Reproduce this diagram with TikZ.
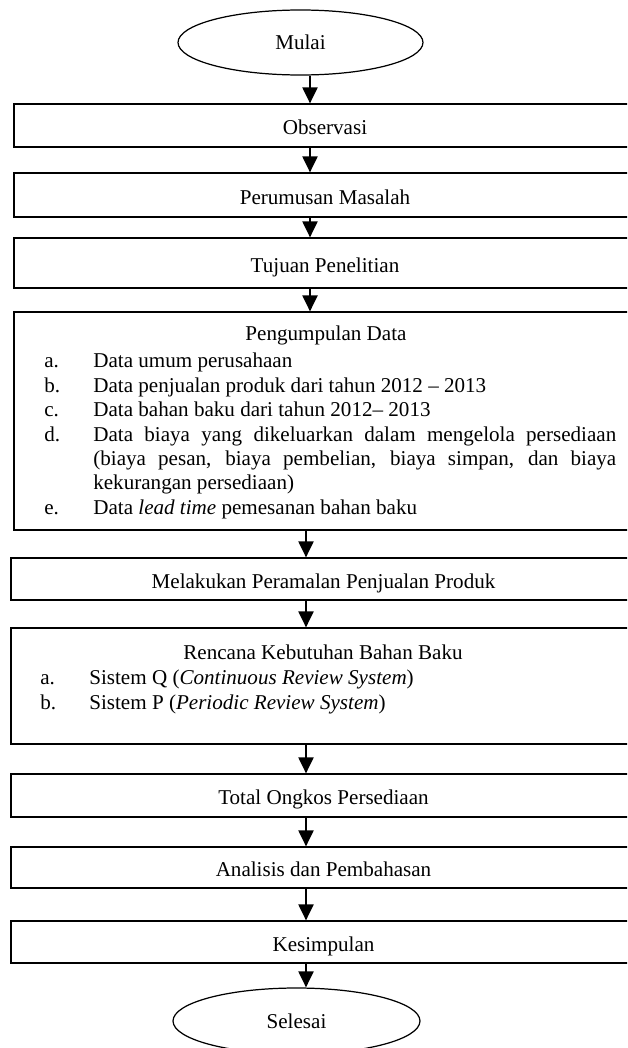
\documentclass[tikz,border=0pt]{standalone}
\usepackage{fontspec}
\setmainfont{Liberation Serif}
\usetikzlibrary{shapes.geometric,arrows.meta}
\newcommand{\butir}[2]{\par\hangindent=0.98cm\hangafter=1\noindent\makebox[0.98cm][l]{#1}#2}
\hyphenpenalty=10000

\begin{document}
\begin{tikzpicture}[x=0.02cm,y=-0.02cm,
  every node/.style={font=\fontsize{12pt}{13.9pt}\selectfont},
  terminal/.style={draw,ellipse,line width=0.7pt,minimum width=4.9cm,minimum height=1.3cm,inner sep=0pt},
  proses/.style={draw,rectangle,line width=0.7pt,minimum width=12.44cm,inner sep=0pt,text height=13pt,text depth=2.7pt},
  proses2/.style={proses,minimum width=12.5cm},
  daftar/.style={text width=11.44cm,align=justify,inner sep=0pt,anchor=north west},
  flow/.style={-{Triangle[width=0.3cm,length=0.32cm]},line width=1.2pt}]
\useasboundingbox (0,0) rectangle (627,1048);
\clip (0,0) rectangle (627,1048);

\coordinate (ax) at (310,0);
\coordinate (bx) at (306,0);

\node[terminal] (mulai) at (300.5,42.5) {Mulai};
\node[proses,minimum height=0.86cm] (obs) at (325,125.5) {Observasi};
\node[proses,minimum height=0.88cm] (rumus) at (325,195) {Perumusan Masalah};
\node[proses,minimum height=1.0cm] (tujuan) at (325,263) {Tujuan Penelitian};

\node[proses,minimum height=4.36cm] (kumpul) at (325,421) {};
\node (kumpulj) at (326,335) {Pengumpulan Data};
\node[daftar] (kumpulisi) at (44,343) {%
\butir{a.}{Data umum perusahaan}
\butir{b.}{Data penjualan produk dari tahun 2012 – 2013}
\butir{c.}{Data bahan baku dari tahun 2012– 2013}
\butir{d.}{Data biaya yang dikeluarkan dalam mengelola persediaan\linebreak
(biaya pesan, biaya pembelian, biaya simpan, dan biaya\linebreak
kekurangan persediaan)}
\butir{e.}{Data \textit{lead time} pemesanan bahan baku}\par};

\node[proses2,minimum height=0.84cm] (ramal) at (323.5,579) {Melakukan Peramalan Penjualan Produk};

\node[proses2,minimum height=2.32cm] (rencana) at (323.5,686) {};
\node (rencanaj) at (323,652) {Rencana Kebutuhan Bahan Baku};
\node[daftar] (rencanaisi) at (40,660) {%
\butir{a.}{Sistem Q (\textit{Continuous Review System})}
\butir{b.}{Sistem P (\textit{Periodic Review System})}\par};

\node[proses2,minimum height=0.86cm] (total) at (323.5,795.5) {Total Ongkos Persediaan};
\node[proses2,minimum height=0.82cm] (analisis) at (323.5,867.5) {Analisis dan Pembahasan};
\node[proses2,minimum height=0.84cm] (simpul) at (323.5,942) {Kesimpulan};
\node[terminal,minimum width=4.94cm,minimum height=1.32cm] (selesai) at (296.5,1021) {Selesai};

\draw[flow] (mulai.south -| ax) -- (obs.north -| ax);
\draw[flow] (obs.south -| ax) -- (rumus.north -| ax);
\draw[flow] (rumus.south -| ax) -- (tujuan.north -| ax);
\draw[flow] (tujuan.south -| ax) -- (kumpul.north -| ax);
\draw[flow] (kumpul.south -| bx) -- (ramal.north -| bx);
\draw[flow] (ramal.south -| bx) -- (rencana.north -| bx);
\draw[flow] (rencana.south -| bx) -- (total.north -| bx);
\draw[flow] (total.south -| bx) -- (analisis.north -| bx);
\draw[flow] (analisis.south -| bx) -- (simpul.north -| bx);
\draw[flow] (simpul.south -| bx) -- (selesai.north -| bx);
\end{tikzpicture}
\end{document}
